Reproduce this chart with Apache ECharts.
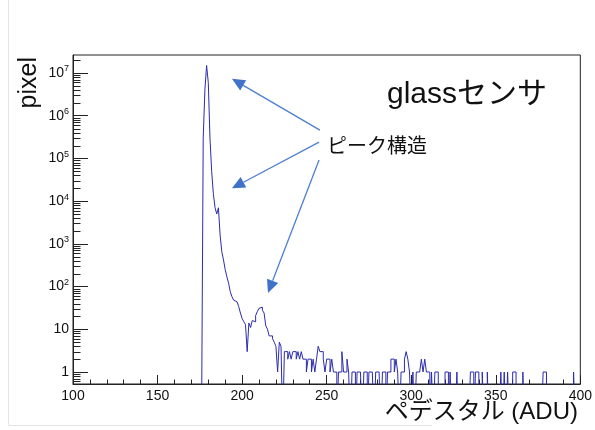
<!DOCTYPE html>
<html><head><meta charset="utf-8">
<script src="https://cdn.jsdelivr.net/npm/echarts@6/dist/echarts.min.js"></script>
<style>html,body{margin:0;padding:0;background:#fff}#c{width:595px;height:430px}</style>
</head><body><div id="c"></div>
<script>
// ---- data (pixel counts per 1-ADU bin, first bin starts at binStart) ----
const binStart = 176;
const counts = [
  0, 300000, 4000000, 15000000, 6000000, 300000, 50000, 15000, 7000, 5000,   // 176-185
  7000, 1600, 650, 420, 250, 170, 120, 76, 58, 48,                           // 186-195
  44, 49, 34, 24, 18, 15, 13, 3, 14, 11,                                     // 196-205
  16, 15, 21, 26, 31, 33, 28, 24, 12, 10,                                    // 206-215
  7, 7, 6, 5, 4, 1, 5, 4, 0, 3,                                              // 216-225
  3, 2, 3, 2, 3, 3, 2, 3, 2, 3,                                              // 226-235
  2, 2, 1, 2, 2, 1, 2, 1, 2, 4,                                              // 236-245
  3, 3, 2, 1, 2, 2, 1, 2, 1, 1,                                              // 246-255
  0, 1, 1, 3, 1, 1, 2, 1, 0, 1,                                              // 256-265
  1, 0, 1, 1, 1, 0, 1, 1, 0, 1,                                              // 266-275
  1, 1, 0, 1, 1, 1, 0, 1, 1, 0,                                              // 276-285
  1, 1, 2, 2, 1, 2, 1, 0, 1, 1,                                              // 286-295
  2, 3, 2, 1, 0, 1, 0, 1, 1, 1,                                              // 296-305
  2, 1, 2, 1, 1, 0, 1, 0, 1, 1,                                              // 306-315
  0, 0, 0, 0, 1, 1, 0, 1, 0, 0,                                              // 316-325
  0, 1, 0, 0, 0, 0, 0, 0, 0, 1,                                              // 326-335
  1, 0, 1, 1, 0, 0, 1, 0, 0, 1,                                              // 336-345
  0, 0, 0, 0, 0, 0, 0, 1, 0, 1,                                              // 346-355
  0, 1, 0, 0, 1, 1, 0, 0, 0, 0,                                              // 356-365
  1, 0, 0, 0, 0, 0, 0, 0, 0, 0,                                              // 366-375
  0, 0, 1, 1, 0, 0, 0, 0, 0, 0,                                              // 376-385
  0, 0, 0, 0, 0, 0, 0, 0, 0, 0,                                              // 386-395
  1, 0, 0, 0                                                                 // 396-399
];
const xMin = 100, xMax = 400, xStep = 50;
const yMin = 0.524, yMax = 2.64e7;
const titleText = 'glassセンサ';
const noteText = 'ピーク構造';
const xTitle = 'ペデスタル (ADU)';
const yTitle = 'pixel';
// annotation arrows in data coordinates: [tailX, tailY, tipX, tipY]
const arrows = [
  [246, 4.6e5, 194, 7.3e6],
  [245.5, 2.4e5, 194, 2.0e4],
  [245.5, 9.2e4, 215.3, 71]
];

// ---- build ----
const EMPTY = yMin / 10; // empty bins are drawn below the frame (clipped), as ROOT does on log scale
const histData = counts.map((c, i) => [binStart + i, c > 0 ? c : EMPTY]);
histData.push([binStart + counts.length, EMPTY]);

const minorY = [];
for (let e = -1; e <= 7; e++) for (let k = 2; k <= 9; k++) {
  const v = k * Math.pow(10, e);
  if (v > yMin && v < yMax) minorY.push([xMin, v]);
}
const LATIN = '"Liberation Sans", Arial, Helvetica, sans-serif';
const JP = '"Liberation Sans", "Noto Sans CJK JP", sans-serif';
const AX = '#222';

const chart = echarts.init(document.getElementById('c'), null, {renderer: 'canvas'});
chart.setOption({
  animation: false,
  backgroundColor: '#fff',
  grid: {left: 73, right: 12, top: 55, bottom: 46, show: true, borderColor: AX, borderWidth: 1, backgroundColor: 'transparent'},
  xAxis: {
    type: 'value', min: xMin, max: xMax, interval: xStep,
    axisLine: {show: true, lineStyle: {color: AX, width: 1}},
    axisTick: {show: true, inside: true, length: 9, lineStyle: {color: AX}},
    minorTick: {show: true, splitNumber: 5, length: 4.5, lineStyle: {color: AX}},
    splitLine: {show: false},
    axisLabel: {color: '#111', fontFamily: LATIN, fontSize: 14, margin: 5}
  },
  yAxis: {
    type: 'log', logBase: 10, min: yMin, max: yMax,
    axisLine: {show: true, lineStyle: {color: AX, width: 1}},
    axisTick: {show: true, inside: true, length: 15, lineStyle: {color: AX}},
    splitLine: {show: false},
    axisLabel: {
      showMinLabel: false, showMaxLabel: false, margin: 4,
      color: '#111', fontFamily: LATIN, fontSize: 14,
      formatter: function (v) {
        const n = Math.round(Math.log10(v));
        if (Math.abs(Math.log10(v) - n) > 1e-6) return '';
        if (n === 0) return '1';
        if (n === 1) return '10';
        return '10{s|' + n + '}';
      },
      rich: {s: {fontSize: 9, fontFamily: LATIN, color: '#111', verticalAlign: 'top', padding: [0, 0, 8, 0]}}
    }
  },
  series: [
    {
      type: 'custom', z: 1, silent: true, clip: false,
      data: minorY,
      renderItem: function (params, api) {
        const p = api.coord([api.value(0), api.value(1)]);
        const y = Math.round(p[1]) + 0.5;
        return {type: 'line', shape: {x1: p[0], y1: y, x2: p[0] + 7.5, y2: y}, style: {stroke: AX, lineWidth: 1}};
      }
    },
    {
      type: 'line', step: 'end', data: histData, showSymbol: false, symbol: 'none',
      clip: true, z: 3,
      lineStyle: {color: '#2b2bb0', width: 1}
    }
  ]
});

function drawAnnotations() {
  const g = [];
  arrows.forEach(a => {
    const t = chart.convertToPixel({gridIndex: 0}, [a[0], a[1]]);
    const h = chart.convertToPixel({gridIndex: 0}, [a[2], a[3]]);
    const dx = h[0] - t[0], dy = h[1] - t[1];
    const L = Math.sqrt(dx * dx + dy * dy), ux = dx / L, uy = dy / L;
    const hl = 13, hw = 6;
    const bx = h[0] - ux * hl, by = h[1] - uy * hl;
    g.push({type: 'line', silent: true, z: 10, shape: {x1: t[0], y1: t[1], x2: bx, y2: by}, style: {stroke: '#4f7fcf', lineWidth: 1.3}});
    g.push({type: 'polygon', silent: true, z: 10, shape: {points: [[h[0], h[1]], [bx - uy * hw, by + ux * hw], [bx + uy * hw, by - ux * hw]]}, style: {fill: '#3f72c8'}});
  });
  g.push({type: 'text', x: 387, y: 95, z: 10, style: {text: titleText, font: '30px ' + JP, fill: '#111', verticalAlign: 'middle', align: 'left'}});
  g.push({type: 'text', x: 327, y: 147, z: 10, style: {text: noteText, font: '20px ' + JP, fill: '#111', verticalAlign: 'middle', align: 'left'}});
  g.push({type: 'text', x: 578, y: 412, z: 10, style: {text: xTitle, font: '24px ' + JP, fill: '#111', verticalAlign: 'middle', align: 'right'}});
  g.push({type: 'text', x: 29, y: 57, z: 10, rotation: Math.PI / 2, style: {text: yTitle, font: '25px ' + LATIN, fill: '#111', verticalAlign: 'middle', align: 'right'}});
  // faint page edges of the original screenshot
  g.push({type: 'line', silent: true, shape: {x1: 8.5, y1: 0, x2: 8.5, y2: 425}, style: {stroke: '#e4e4e4', lineWidth: 1}});
  g.push({type: 'line', silent: true, shape: {x1: 8.5, y1: 425.5, x2: 432, y2: 425.5}, style: {stroke: '#e4e4e4', lineWidth: 1}});
  chart.setOption({graphic: g});
}
drawAnnotations();
</script></body></html>
